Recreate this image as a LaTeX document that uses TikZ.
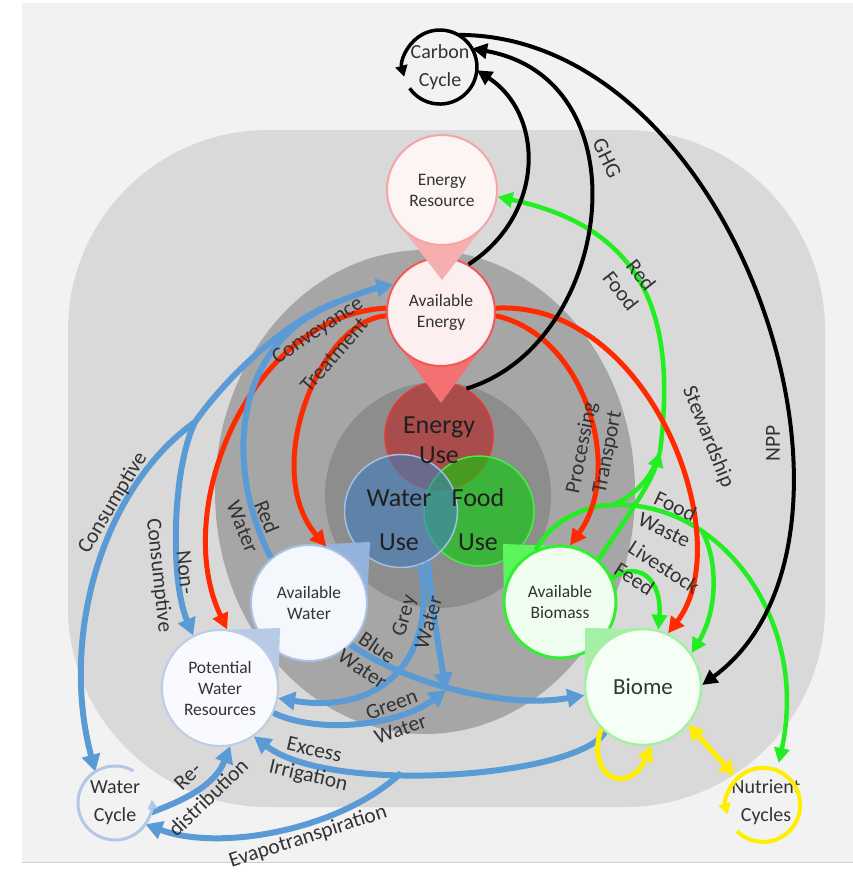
\documentclass[tikz,border=0pt]{standalone}
\usepackage{fontspec}
\setmainfont{Carlito}
\usetikzlibrary{arrows.meta}

\definecolor{paper}{HTML}{F2F2F2}
\definecolor{rule}{HTML}{D0D0D0}
\definecolor{ringout}{HTML}{D9D9D9}
\definecolor{ringmid}{HTML}{A6A6A6}
\definecolor{ringin}{HTML}{8D8D8D}
\definecolor{txt}{HTML}{333333}
\definecolor{flowblue}{HTML}{5B9BD5}
\definecolor{flowred}{HTML}{FF2A00}
\definecolor{flowgreen}{HTML}{22EE22}
\definecolor{flowyellow}{HTML}{FFEE00}
\definecolor{cyclewater}{HTML}{B4C7E7}
\definecolor{erfill}{HTML}{FDF4F4}\definecolor{erbord}{HTML}{F4A6A6}\definecolor{ertab}{HTML}{F7AEAE}
\definecolor{aefill}{HTML}{FDEFEF}\definecolor{aebord}{HTML}{F25A5A}\definecolor{aetab}{HTML}{F47171}
\definecolor{awfill}{HTML}{F4F7FC}\definecolor{awbord}{HTML}{A9C1E3}\definecolor{awtab}{HTML}{93B3DC}
\definecolor{pwfill}{HTML}{F8FAFD}\definecolor{pwbord}{HTML}{BCCDE8}\definecolor{pwtab}{HTML}{B7CAE6}
\definecolor{abfill}{HTML}{F0FEF0}\definecolor{abbord}{HTML}{33EE33}\definecolor{abtab}{HTML}{5CF55C}
\definecolor{bifill}{HTML}{F5FFF5}\definecolor{bibord}{HTML}{A3F0A3}\definecolor{bitab}{HTML}{A6EFA6}
\definecolor{eufill}{HTML}{BB2121}\definecolor{eubord}{HTML}{E53935}
\definecolor{wufill}{HTML}{417DBB}\definecolor{wubord}{HTML}{A3BFE3}
\definecolor{fufill}{HTML}{07CF07}\definecolor{fubord}{HTML}{44EE44}

\tikzset{
  drop/.style={circle, inner sep=0pt, align=center, text=txt, font=\fontsize{17.5}{21}\selectfont, line width=2pt},
  venn/.style={circle, inner sep=0pt, line width=1.5pt, fill opacity=0.6},
  venntxt/.style={align=center, text=black!88, font=\fontsize{26}{30}\selectfont, inner sep=0pt},
  cyc/.style={circle, minimum size=74pt, inner sep=0pt, outer sep=0pt, align=center, text=txt, font=\fontsize{20}{28}\selectfont},
  lbl/.style={align=center, text=txt, font=\fontsize{21.5}{26}\selectfont, inner sep=0pt},
  blueline/.style={draw=flowblue, line width=6pt},
  blueflow/.style={blueline, -{Triangle[length=17pt,width=18pt]}},
  redflow/.style={draw=flowred, line width=5pt, -{Triangle[length=16pt,width=16pt]}},
  greenline/.style={draw=flowgreen, line width=4.5pt},
  greenflow/.style={greenline, -{Triangle[length=15pt,width=15pt]}},
  blackflow/.style={draw=black, line width=4pt, -{Triangle[length=15pt,width=15pt]}},
  yellowflow/.style={draw=flowyellow, line width=5pt, -{Triangle[length=15pt,width=16pt]}},
  yellowboth/.style={draw=flowyellow, line width=5pt, {Triangle[length=15pt,width=16pt]}-{Triangle[length=15pt,width=16pt]}},
  blackcycle/.style={draw=black, line width=3.5pt, -{Triangle[length=11pt,width=12pt]}},
  yellowcycle/.style={draw=flowyellow, line width=4pt, -{Triangle[length=11pt,width=12pt]}},
  watercycle/.style={draw=cyclewater, line width=3pt, -{Triangle[length=9pt,width=10pt]}}
}

\begin{document}
\begin{tikzpicture}[x=1pt, y=-1pt]
	\useasboundingbox (0,0) rectangle (853,875);
	% Backdrop and rings:
	\fill[white] (0,0) rectangle (853,875);
	\fill[paper] (22,3) rectangle (853,862);
	\draw[line width=1pt, draw=rule] (22,862.5) -- (853,862.5);
	\fill[ringout, rounded corners=200pt] (68,130) rectangle (825,807);
	\fill[ringmid] (425,492) ellipse [x radius=210, y radius=242];
	\fill[ringin] (438,495) circle [radius=113];
	% Use circles:
	\node[venn, minimum size=108pt, draw=eubord, fill=eufill] (eu) at (439,436) {};
	\node[venn, minimum size=110pt, draw=fubord, fill=fufill] (fu) at (479,511) {};
	\node[venn, minimum size=113pt, draw=wubord, fill=wufill] (wu) at (401,511) {};
	% Energy:
	\fill[aetab] (397.5,344) -- (441,403) -- (484.5,344) -- cycle;
	\node[drop, minimum size=108pt, draw=aebord, fill=aefill] (ae) at (441,312) {Available\\Energy};
	\fill[ertab] (398.5,223.6) -- (442,280) -- (485.5,223.6) -- cycle;
	\node[drop, minimum size=110pt, draw=erbord, fill=erfill] (er) at (442,190) {Energy\\Resource};
	% Water:
	\fill[awtab] (309,545) -- (370,542) -- (367,603) -- cycle;
	\node[drop, minimum size=116pt, draw=awbord, fill=awfill] (aw) at (309,603) {Available\\Water};
	\fill[pwtab] (220,630) -- (280,628) -- (278,688) -- cycle;
	\node[drop, minimum size=116pt, draw=pwbord, fill=pwfill] (pw) at (220,688) {Potential\\Water\\Resources};
	% Biomass:
	\fill[abtab] (560,546) -- (503,544) -- (504,602) -- cycle;
	\node[drop, minimum size=112pt, line width=3pt, draw=abbord, fill=abfill] (ab) at (560,602) {Available\\Biomass};
	\fill[bitab] (643,629) -- (585,628) -- (585,687) -- cycle;
	\node[drop, minimum size=116pt, line width=2.5pt, draw=bibord, fill=bifill, font=\fontsize{23}{28}\selectfont] (bi) at (643,687) {Biome};
	% Cycles:
	\node[cyc] (cc) at (440,67) {Carbon\\Cycle};
	\node[cyc] (wc) at (115,803) {Water\\Cycle};
	\node[cyc] (nc) at (766,802) {Nutrient\\Cycles};
	\coordinate (jw) at (335,303);
	\coordinate (js) at (195,422);
	\coordinate (hub) at (446,690);
	\coordinate (je) at (401,773);
	\coordinate (jf) at (613,505);
	\coordinate (jb) at (702,531);
	\coordinate (jg) at (660,452);
	% Green flows:
	\draw[greenflow] (ab.48) .. controls (625,520) and (650,485) .. (jg);
	\draw[greenline] (ab.115) .. controls (552,520) and (585,505) .. (jf);
	\draw[greenline] (jf) .. controls (635,495) and (652,478) .. (jg);
	\draw[greenflow] (jg) .. controls (675,330) and (655,230) .. (er.-7);
	\draw[greenflow] (jf) .. controls (720,500) and (810,620) .. (nc.72);
	\draw[greenflow] (jb) .. controls (718,560) and (718,610) .. (bi.35);
	\draw[greenflow] (ab.25) .. controls (640,560) and (662,580) .. (bi.75);
	% Red flows:
	\draw[redflow] (ae.184) .. controls (320,320) and (260,470) .. (aw.73);
	\draw[redflow] (ae.176) .. controls (250,315) and (170,510) .. (pw.83);
	\draw[redflow] (ae.-4) .. controls (585,335) and (625,470) .. (ab.80);
	\draw[redflow] (ae.4) .. controls (650,300) and (740,540) .. (bi.65);
	% Blue flows:
	\draw[blueflow] (aw.130) .. controls (225,470) and (230,345) .. (jw) .. controls (355,295) and (372,289) .. (ae.150);
	\draw[blueline] (jw) .. controls (290,320) and (232,370) .. (js);
	\draw[blueflow] (js) .. controls (100,490) and (60,640) .. (wc.122);
	\draw[blueflow] (js) .. controls (172,470) and (170,580) .. (pw.117);
	\draw[blueflow] (aw.-45) .. controls (400,680) and (500,710) .. (bi.188);
	\draw[blueflow] (wu.-70) .. controls (438,660) and (380,715) .. (pw.-10);
	\draw[blueflow] (wu.-62) .. controls (432,610) and (440,655) .. (hub);
	\draw[blueflow] (pw.-25) .. controls (320,735) and (400,725) .. (hub);
	\draw[blueflow] (bi.-130) .. controls (575,778) and (330,795) .. (pw.-55);
	\draw[blueflow] (je) .. controls (340,830) and (220,852) .. (wc.-35);
	\draw[blueflow] (wc.-15) .. controls (185,800) and (215,785) .. (pw.-80);
	% Black flows:
	\draw[blackflow] (ae.60) .. controls (545,215) and (545,115) .. (cc.-5);
	\draw[blackflow] (eu.60) .. controls (612,345) and (648,80) .. (cc.30);
	\draw[blackflow] (cc.60) .. controls (740,35) and (900,540) .. (bi.2);
	% Yellow flows and cycle arrows:
	\draw[yellowflow] (bi.-135) .. controls (585,780) and (630,795) .. (bi.-82);
	\draw[yellowboth] (bi.-40) -- (nc.140);
	\draw[yellowcycle] (nc.-135) arc[start angle=135, end angle=-195, radius=37];
	\draw[blackcycle] (cc.-145) arc[start angle=145, end angle=-195, radius=37];
	\draw[watercycle] (wc.60) arc[start angle=-60, end angle=-365, radius=37];
	% Use texts:
	\node[venntxt] (eut) at (439,440) {Energy\\Use};
	\node[venntxt] (wut) at (399,520) {Water\\[14pt]Use};
	\node[venntxt] (fut) at (478,520) {Food\\[14pt]Use};
	% Flow labels:
	\node[lbl, rotate=-64] (lghg) at (607,158) {GHG};
	\node[lbl, rotate=-52] (lredfood) at (631,283) {Red\\Food};
	\node[lbl, rotate=34] (lconv) at (318,331) {Conveyance};
	\node[lbl, rotate=49] (ltreat) at (334,355) {Treatment};
	\node[lbl, rotate=-68] (lredwater) at (255,522) {Red\\Water};
	\node[lbl, rotate=79] (lproc) at (595,450) {Processing\\Transport};
	\node[lbl, rotate=-68] (lstew) at (708,437) {Stewardship};
	\node[lbl, rotate=90] (lnpp) at (773,443) {NPP};
	\node[lbl, rotate=-25] (lwaste) at (670,518) {Food\\Waste};
	\node[lbl, rotate=-33, align=left] (lfeed) at (657,578) {Livestock\\Feed};
	\node[lbl, rotate=59] (lcons) at (113,503) {Consumptive};
	\node[lbl, rotate=-84] (lnoncons) at (171,574) {Non-\\Consumptive};
	\node[lbl, rotate=-34] (lblue) at (370,658) {Blue\\Water};
	\node[lbl, rotate=74] (lgrey) at (416,619) {Grey\\Water};
	\node[lbl, rotate=20] (lgreen) at (396,717) {Green\\Water};
	\node[lbl, rotate=-13] (lexcess) at (311,764) {Excess\\Irrigation};
	\node[lbl, rotate=18] (levap) at (308,837) {Evapotranspiration};
	\node[lbl, rotate=44, font=\fontsize{21.5}{30}\selectfont] (lredis) at (198,787) {Re-\\distribution};
\end{tikzpicture}
\end{document}
